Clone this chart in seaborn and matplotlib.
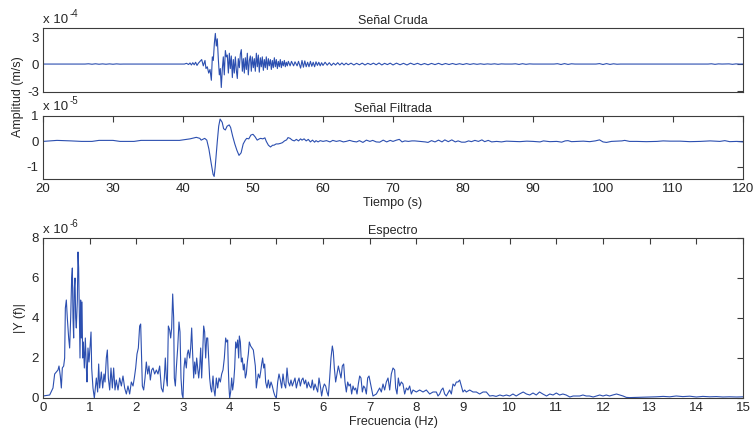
import matplotlib
matplotlib.use("Agg")
import matplotlib.pyplot as plt
import seaborn as sns
from matplotlib.ticker import FormatStrFormatter

# ---------------- data ----------------
# Raw velocity record, amplitude in units of 1e-4 m/s
raw_t = [20, 26, 26.5, 27, 27.5, 28, 28.5, 29, 29.5, 30, 30.5, 31, 31.5, 40.2,
         40.5, 40.8, 41.0, 41.2, 41.4, 41.6, 41.8, 42.0, 42.2,
         42.43, 42.67, 42.90, 43.14, 43.28, 43.47, 43.67, 43.86, 44.05, 44.19,
         44.33, 44.48, 44.62, 44.76, 44.90, 45.05, 45.19, 45.33, 45.47, 45.62,
         45.76, 45.90, 46.05, 46.19, 46.33, 46.48, 46.62, 46.76, 46.90, 47.05,
         47.19, 47.33, 47.48, 47.62, 47.76, 47.90, 48.05, 48.19, 48.33, 48.48,
         48.62, 48.76, 48.90, 49.05, 49.19, 49.33, 49.48, 49.62, 49.76, 49.90,
         50.05, 50.19, 50.33, 50.48, 50.62, 50.76, 50.90, 51.05, 51.19, 51.33,
         51.48, 51.62, 51.76, 51.90, 52.05, 52.19, 52.33, 52.48, 52.62, 52.76,
         52.90, 53.05, 53.19, 53.33, 53.48, 53.62, 53.76, 53.90, 54.05, 54.19,
         54.33, 54.48, 54.62, 54.76, 54.90, 55.05,
         55.3, 55.5, 55.8, 56.0, 56.3, 56.5, 56.8, 57.0, 57.2, 57.4, 57.6, 57.8, 58.0,
         58.2, 58.4, 58.6, 58.8, 59.0, 59.2, 59.4, 59.6, 59.8, 60.0, 60.3, 60.6,
         60.9, 61.2, 61.5, 61.8, 62.1, 62.4, 62.7, 63.0, 63.3, 63.6, 64.0, 64.4,
         64.8, 65.2, 65.6, 66.0, 66.4, 66.8, 67.2, 67.6, 68.0, 68.4, 68.8, 69.2,
         69.6, 70.0, 70.5, 71.0, 71.5, 72.0, 72.5, 73.0, 73.5, 74.0, 74.5, 75.0,
         75.5, 76.0, 76.5, 77.0, 77.5, 78.0, 78.5, 79.0, 79.5, 80.0, 80.5, 81.0,
         81.5, 82.0, 82.5, 83.0, 83.5, 84.0, 84.5, 85.0, 85.5, 86.0, 87.0, 87.5,
         88.0, 88.5, 89.0, 89.5, 90.0, 91.0, 92.0, 93.0, 93.5, 94.0, 94.5, 95.0,
         95.5, 96.0, 99.0, 99.5, 100.0, 100.5, 101.0, 101.5, 102.0, 102.5, 105.0,
         110.0, 115.0, 115.5, 116.0, 116.5, 117.0, 118.0, 118.5, 119.0, 119.5, 120.0]
raw_v = [0, 0, 0.03, -0.02, 0.03, -0.02, 0.02, -0.02, 0.02, -0.02, 0.02, -0.01, 0, 0,
         0.08, -0.05, 0.12, -0.1, 0.15, -0.08, 0.2, -0.15, 0.1,
         0.3, 0.5, -0.2, 0.4, -0.5, -0.3, -1.0, -0.6, -1.8, 0.8,
         0.4, 2.3, 3.4, 2.0, 2.8, 0.5, -1.2, -0.5, -2.6, -0.5,
         0.8, -1.2, 1.5, 0.8, 1.0, -1.0, 1.2, -0.5, 0.9, -1.5,
         0.5, -1.0, 0.8, -0.7, -1.6, 0.6, -0.4, 1.1, 1.6, -0.8,
         0.6, -1.0, 0.7, -0.6, 1.2, -1.2, 0.4, 0.9, -0.8, 0.8,
         -0.4, 0.6, -0.8, 1.2, -0.3, 1.0, -0.9, 0.7, -0.3, 0.8,
         -0.7, 0.5, -0.4, 0.8, -0.6, 0.6, -0.2, 0.5, -0.6, 0.4,
         -0.4, 0.7, -0.3, 0.5, -0.5, 0.3, -0.3, 0.5, -0.4, 0.3,
         -0.2, 0.4, -0.3, 0.2, -0.2, 0.3,
         -0.2, 0.3, -0.2, 0.25, -0.2, 0.3, -0.45, 0.4, -0.35, 0.35, -0.3, 0.2, -0.3,
         0.3, -0.25, 0.2, -0.3, 0.25, -0.15, 0.2, -0.2, 0.15, -0.15, 0.2, -0.12,
         0.15, -0.15, 0.1, -0.1, 0.15, -0.1, 0.12, -0.1, 0.1, -0.08, 0.1, -0.1,
         0.08, -0.08, 0.1, -0.1, 0.08, -0.06, 0.1, -0.08, 0.12, -0.1, 0.08, -0.06,
         0.1, -0.1, 0.1, -0.08, 0.08, -0.1, 0.1, -0.06, 0.08, -0.08, 0.06, -0.08,
         0.07, -0.06, 0.08, -0.07, 0.06, -0.05, 0.06, -0.05, 0.04, -0.05, 0.05, -0.04,
         0.04, -0.03, 0.03, -0.03, 0.02, -0.02, 0.03, -0.03, 0.02, 0, 0, 0.03,
         -0.04, 0.04, -0.03, 0.02, 0, 0, 0.01, 0, 0.04, -0.05, 0.05, -0.04,
         0.03, 0, 0, 0.05, -0.05, 0.05, -0.04, 0.03, -0.02, 0, 0,
         0.01, 0, 0.03, -0.03, 0.02, 0, 0.02, -0.03, 0.02, -0.01, 0]

# Band-pass filtered record, amplitude in units of 1e-5 m/s
filt_t = [20, 22, 24, 25.5, 27, 28, 30, 31, 33, 34, 36, 39.5, 40.2, 41.0, 41.9,
          42.4, 42.6, 43.1, 43.4, 43.7, 44.05, 44.3, 44.45, 44.6, 44.9, 45.1,
          45.3, 45.6, 45.8, 46.05, 46.3, 46.6, 46.8, 47.1, 47.4, 47.7, 48.0,
          48.3, 48.6, 48.9, 49.1, 49.4, 49.7, 50.0, 50.3, 50.6, 50.9, 51.1,
          51.4, 51.7, 51.9, 52.2, 52.5, 52.8, 53.0, 53.3, 53.6, 53.9, 54.2,
          54.5, 54.8, 55.0, 55.3, 55.6, 55.9, 56.2, 56.5, 56.8, 57.0, 57.3,
          57.6, 57.9, 58.2, 58.5, 58.8, 59.0, 59.3, 59.6, 60.0, 60.5, 61.0,
          61.4, 61.9, 62.4, 62.9, 63.3, 63.8, 64.3, 64.8, 65.2, 65.7, 66.2,
          66.7, 67.1, 67.6, 68.1, 68.6, 69.1, 69.6, 70.0, 70.5, 70.9, 71.3,
          71.7, 72.2, 72.7, 73.1, 73.9, 74.6, 75.0, 75.5, 76.0, 76.5, 77.0,
          77.4, 77.9, 78.4, 78.9, 79.3, 79.8, 80.3, 80.8, 81.2, 81.7, 82.2,
          82.7, 83.1, 83.6, 84.1, 84.8, 85.5, 86.2, 87.2, 88.1, 89.1, 90.0,
          91.0, 91.5, 92.4, 93.4, 94.1, 94.6, 95.0, 95.5, 96.2, 97.2, 98.1,
          98.9, 99.5, 100.0, 100.5, 101.2, 101.9, 102.7, 103.1, 103.8, 104.8,
          106.2, 107.7, 108.6, 109.6, 111.0, 112.4, 113.9, 115.3, 116.7, 117.4,
          118.1, 119.1, 120.0]
filt_v = [0, 0.04, 0.02, 0, 0.0, 0.04, 0.04, 0, 0, 0.04, 0.04, 0.04, 0.07, 0.1, 0.16,
          0.12, 0.05, 0.12, 0.05, -0.3, -0.9, -1.3, -1.38, -1.0, 0.0, 0.6,
          0.88, 0.75, 0.5, 0.45, 0.6, 0.65, 0.55, 0.2, -0.1, -0.35, -0.55,
          -0.45, -0.1, 0.05, 0.12, 0.1, 0.25, 0.28, 0.18, 0.05, 0.1, 0.12,
          0.1, 0.14, 0.0, -0.15, -0.22, -0.15, -0.15, -0.1, -0.1, -0.08, -0.05,
          0.02, 0.06, 0.15, 0.12, 0.05, 0.02, 0.08, 0.02, 0.1, 0.05, 0.1,
          0.02, 0.08, -0.02, 0.05, -0.03, 0.03, -0.02, 0.03, 0.0, 0.03, -0.02,
          0.04, 0.0, 0.03, -0.02, 0.0, 0.04, 0.0, -0.02, 0.03, -0.04, 0.05,
          0.0, 0.04, -0.02, -0.03, 0.05, -0.02, 0.04, 0.0, 0.05, 0.08, -0.02,
          0.02, 0.0, 0.02, 0.02, 0.0, -0.02, -0.04, 0.03, -0.02, 0.05, -0.02,
          0.06, -0.01, 0.06, -0.02, 0.02, -0.03, -0.03, 0.02, -0.01, 0.04, 0.0,
          0.06, -0.01, 0.04, -0.02, 0.0, -0.02, 0.01, 0.0, -0.01, 0.01, 0.0,
          -0.02, 0.02, -0.01, 0.0, -0.03, 0.02, 0.03, -0.01, 0.0, 0.01, -0.01,
          0.02, 0.06, -0.02, -0.04, 0.0, 0.01, 0.02, 0.04, 0.0, 0.0,
          -0.01, 0.0, 0.02, 0.01, 0.01, -0.01, 0.0, 0.02, 0.0, 0.03,
          -0.01, 0.0, -0.02]

# Amplitude spectrum |Y(f)|, in units of 1e-6
spec_f = [0.000, 0.143, 0.214, 0.250, 0.321, 0.343, 0.371, 0.393, 0.414, 0.443,
          0.464, 0.479, 0.500, 0.521, 0.550, 0.571, 0.593, 0.614, 0.629, 0.643,
          0.657, 0.671, 0.686, 0.700, 0.714, 0.736, 0.750, 0.764, 0.779, 0.793,
          0.807, 0.821, 0.836, 0.850, 0.864, 0.886, 0.907, 0.929, 0.943, 0.964,
          0.986, 1.007, 1.029, 1.043, 1.071, 1.100, 1.143, 1.171, 1.193, 1.214,
          1.250, 1.279, 1.307, 1.329, 1.357, 1.379, 1.400, 1.429, 1.457, 1.486,
          1.514, 1.543, 1.571, 1.607, 1.643, 1.679, 1.714, 1.750, 1.786, 1.821,
          1.857, 1.893, 1.929, 1.957, 1.986, 2.014, 2.043, 2.071, 2.093, 2.114,
          2.129, 2.157, 2.186, 2.214, 2.243, 2.271, 2.300, 2.329, 2.357, 2.393,
          2.429, 2.464, 2.500, 2.536, 2.571, 2.600, 2.621, 2.643, 2.664, 2.686,
          2.714, 2.736, 2.757, 2.779, 2.800, 2.814, 2.836, 2.857, 2.886, 2.914,
          2.936, 2.957, 2.979, 3.000, 3.021, 3.043, 3.071, 3.093, 3.114, 3.143,
          3.164, 3.186, 3.207, 3.229, 3.250, 3.271, 3.293, 3.314, 3.336, 3.357,
          3.379, 3.400, 3.421, 3.443, 3.464, 3.486, 3.507, 3.529, 3.550, 3.571,
          3.593, 3.614, 3.643, 3.664, 3.686, 3.714, 3.743, 3.771, 3.800, 3.829,
          3.857, 3.886, 3.914, 3.936, 3.957, 3.971, 3.986, 4.000, 4.021, 4.043,
          4.064, 4.086, 4.107, 4.129, 4.150, 4.171, 4.193, 4.207, 4.229, 4.250,
          4.271, 4.293, 4.314, 4.336, 4.357, 4.379, 4.400, 4.421, 4.450, 4.479,
          4.507, 4.529, 4.550, 4.571, 4.593, 4.614, 4.643, 4.664, 4.686, 4.707,
          4.729, 4.750, 4.771, 4.800, 4.829, 4.857, 4.886, 4.914, 4.943, 4.971,
          5.000, 5.029, 5.057, 5.086, 5.114, 5.143, 5.171, 5.200, 5.229, 5.257,
          5.286, 5.314, 5.343, 5.371, 5.400, 5.429, 5.457, 5.486, 5.514, 5.543,
          5.571, 5.600, 5.629, 5.657, 5.686, 5.714, 5.743, 5.771, 5.800, 5.829,
          5.857, 5.886, 5.914, 5.943, 5.971, 6.000, 6.029, 6.057, 6.086, 6.114,
          6.143, 6.171, 6.200, 6.221, 6.243, 6.271, 6.300, 6.329, 6.357, 6.386,
          6.414, 6.443, 6.471, 6.500, 6.529, 6.557, 6.586, 6.614, 6.643, 6.671,
          6.700, 6.729, 6.757, 6.786, 6.814, 6.843, 6.871, 6.900, 6.929, 6.957,
          6.986, 7.036, 7.071, 7.143, 7.214, 7.250, 7.286, 7.321, 7.357, 7.393,
          7.429, 7.464, 7.500, 7.536, 7.557, 7.586, 7.614, 7.643, 7.679, 7.714,
          7.750, 7.786, 7.821, 7.857, 7.893, 7.929, 8.000, 8.071, 8.143, 8.214,
          8.286, 8.357, 8.429, 8.464, 8.500, 8.536, 8.571, 8.607, 8.643, 8.714,
          8.750, 8.786, 8.821, 8.857, 8.893, 8.929, 8.964, 9.000, 9.036, 9.071,
          9.143, 9.214, 9.286, 9.357, 9.429, 9.500, 9.571, 9.64, 9.71, 9.79,
          9.86, 9.93, 10.0, 10.07, 10.14, 10.21, 10.29, 10.36, 10.43, 10.5,
          10.57, 10.64, 10.71, 10.79, 10.86, 10.93, 11.0, 11.07, 11.14, 11.21,
          11.29, 11.36, 11.43, 11.5, 11.57, 11.64, 11.71, 11.79, 11.86, 11.93,
          12.0, 12.07, 12.14, 12.21, 12.29, 12.36, 12.43, 12.5, 12.57, 12.71,
          12.86, 13.0, 13.14, 13.29, 13.43, 13.57, 13.71, 13.86, 14.0, 14.14,
          14.29, 14.43, 14.57, 14.71, 14.86, 15.0]
spec_a = [0.1, 0.15, 0.5, 1.2, 1.4, 1.6, 1.1, 0.5, 1.5, 1.6,
          2.0, 4.5, 4.9, 4.0, 3.0, 2.5, 4.0, 6.0, 6.5, 4.0,
          3.0, 5.5, 6.0, 4.0, 3.5, 4.9, 7.3, 6.5, 4.0, 2.0,
          4.9, 3.0, 4.8, 2.0, 2.8, 1.5, 3.0, 1.5, 0.8, 2.5,
          1.8, 2.5, 3.3, 1.5, 0.5, 0.0, 1.0, 0.3, 1.7, 0.5,
          1.3, 0.5, 1.2, 0.8, 2.0, 2.4, 1.0, 0.4, 1.5, 0.5,
          1.5, 0.4, 0.9, 0.4, 1.0, 0.6, 1.1, 0.5, 0.2, 0.6,
          0.2, 0.8, 0.6, 1.0, 1.5, 2.2, 2.5, 3.6, 3.7, 2.0,
          0.6, 0.4, 1.0, 1.8, 1.2, 1.6, 0.9, 1.4, 1.5, 1.2,
          1.4, 1.2, 1.6, 0.5, 0.3, 1.0, 2.0, 1.0, 0.6, 3.6,
          3.4, 3.0, 3.5, 5.2, 4.0, 1.0, 0.6, 1.5, 2.5, 3.8,
          3.3, 1.0, 0.2, 0.0, 1.5, 2.0, 1.5, 2.2, 2.4, 2.0,
          2.5, 3.5, 2.2, 1.0, 1.8, 1.2, 2.0, 1.5, 1.0, 1.5,
          2.5, 1.0, 2.2, 3.6, 3.3, 2.0, 3.0, 3.0, 2.0, 1.0,
          0.5, 0.3, 1.1, 0.4, 0.1, 1.0, 0.5, 1.0, 0.8, 1.2,
          1.4, 2.0, 3.0, 2.8, 2.9, 1.5, 0.5, 0.0, 0.3, 1.0,
          0.4, 0.8, 1.5, 2.8, 2.5, 2.9, 2.0, 3.1, 2.8, 1.8,
          2.0, 1.4, 1.7, 1.0, 1.2, 1.8, 2.2, 2.8, 2.6, 2.5,
          2.4, 2.0, 1.6, 0.5, 0.9, 1.2, 1.0, 1.3, 1.7, 2.0,
          1.5, 1.7, 0.8, 0.5, 0.9, 0.5, 0.8, 0.6, 0.3, 0.1,
          0.0, 0.8, 1.2, 0.9, 0.5, 1.2, 0.7, 0.5, 1.5, 0.8,
          0.6, 0.9, 0.6, 0.8, 1.0, 0.5, 0.8, 1.0, 0.6, 0.9,
          1.0, 0.7, 0.9, 0.5, 0.8, 0.6, 0.5, 0.9, 0.4, 0.7,
          0.5, 0.3, 1.0, 0.6, 0.1, 0.5, 0.7, 0.6, 0.3, 0.1,
          1.0, 2.0, 2.6, 2.3, 1.5, 0.8, 1.2, 1.6, 1.3, 1.0,
          1.6, 1.7, 0.8, 0.3, 0.8, 0.6, 0.7, 0.2, 0.6, 0.4,
          0.5, 0.2, 0.7, 1.1, 1.0, 0.3, 0.6, 0.5, 0.2, 1.0,
          1.1, 0.5, 0.1, 0.2, 0.5, 0.3, 0.7, 0.4, 0.8, 1.0,
          0.4, 1.2, 1.5, 1.4, 0.5, 0.2, 1.0, 0.6, 0.8, 0.7,
          0.2, 0.5, 0.4, 0.6, 0.2, 0.4, 0.3, 0.4, 0.3, 0.4,
          0.2, 0.3, 0.3, 0.1, 0.2, 0.4, 0.5, 0.2, 0.1, 0.4,
          0.2, 0.7, 0.6, 0.8, 0.8, 0.9, 0.6, 0.3, 0.4, 0.3,
          0.4, 0.3, 0.3, 0.2, 0.3, 0.3, 0.1, 0.12, 0.08, 0.15,
          0.1, 0.15, 0.1, 0.2, 0.1, 0.2, 0.3, 0.2, 0.15, 0.25,
          0.15, 0.3, 0.2, 0.1, 0.2, 0.15, 0.25, 0.15, 0.2, 0.15,
          0.05, 0.1, 0.1, 0.1, 0.15, 0.1, 0.1, 0.05, 0.1, 0.15,
          0.1, 0.15, 0.1, 0.15, 0.2, 0.15, 0.1, 0.03, 0.02, 0.03,
          0.04, 0.05, 0.06, 0.08, 0.06, 0.1, 0.07, 0.09, 0.05, 0.08,
          0.06, 0.07, 0.05, 0.06, 0.05, 0.06]

time_ticks = [20, 30, 40, 50, 60, 70, 80, 90, 100, 110, 120]
freq_ticks = list(range(0, 16))

# ---------------- style ----------------
sns.set_style("white")
plt.rcParams["font.family"] = ["Liberation Sans", "DejaVu Sans"]
plt.rcParams["axes.unicode_minus"] = False

LINE = "#2c4fb0"
INK = "#262626"
SPINE = "#3c3c3c"
TICK_FS = 9.5
TEXT_FS = 9

W, H = 753, 434
fig = plt.figure(figsize=(W / 100, H / 100), dpi=100)
renderer = fig.canvas.get_renderer()


def px_axes(left, top, right, bottom):
    return fig.add_axes([left / W, 1 - bottom / H, (right - left) / W, (bottom - top) / H])


def style(ax):
    for s in ax.spines.values():
        s.set_color(SPINE)
        s.set_linewidth(0.8)
    ax.tick_params(direction="in", length=4, width=0.8, color=SPINE,
                   top=True, right=True, labelsize=TICK_FS, labelcolor=INK, pad=3)
    ax.set_xlabel("")
    ax.set_ylabel("")


def exponent(left_px, base_px, power):
    """MATLAB-style 'x 10^n' multiplier written above an axes."""
    base = fig.text(left_px / W, 1 - base_px / H, "x 10", fontsize=TICK_FS,
                    color=INK, ha="left", va="baseline")
    width = base.get_window_extent(renderer).width
    fig.text((left_px + width + 1) / W, 1 - (base_px - 6) / H, power, fontsize=7,
             color=INK, ha="left", va="baseline")


# Raw signal
ax1 = px_axes(43, 28, 743, 92)
sns.lineplot(x=raw_t, y=raw_v, ax=ax1, color=LINE, linewidth=0.8,
             estimator=None, sort=False)
ax1.set_xlim(20, 120)
ax1.set_ylim(-3.1, 4.0)
ax1.set_xticks([])
ax1.set_yticks([-3, 0, 3])
ax1.yaxis.set_major_formatter(FormatStrFormatter("%g"))
style(ax1)
ax1.set_title("Señal Cruda", fontsize=TEXT_FS, color=INK, pad=3)
exponent(43, 23, "-4")

# Filtered signal
ax2 = px_axes(43, 116, 743, 179)
sns.lineplot(x=filt_t, y=filt_v, ax=ax2, color=LINE, linewidth=0.8,
             estimator=None, sort=False)
ax2.set_xlim(20, 120)
ax2.set_ylim(-1.48, 1.0)
ax2.set_xticks(time_ticks)
ax2.set_yticks([-1, 0, 1])
ax2.yaxis.set_major_formatter(FormatStrFormatter("%g"))
style(ax2)
ax2.set_title("Señal Filtrada", fontsize=TEXT_FS, color=INK, pad=3)
ax2.set_xlabel("Tiempo (s)", fontsize=TEXT_FS, color=INK, labelpad=1)
exponent(43, 110, "-5")

# Shared amplitude label for both time-domain panels
fig.text(18 / W, 1 - 97 / H, "Amplitud (m/s)", rotation=90, fontsize=TEXT_FS,
         color=INK, ha="center", va="center")

# Spectrum
ax3 = px_axes(43, 238, 743, 398)
sns.lineplot(x=spec_f, y=spec_a, ax=ax3, color=LINE, linewidth=0.8,
             estimator=None, sort=False)
ax3.set_xlim(0, 15)
ax3.set_ylim(0, 8)
ax3.set_xticks(freq_ticks)
ax3.set_yticks([0, 2, 4, 6, 8])
style(ax3)
ax3.set_title("Espectro", fontsize=TEXT_FS, color=INK, pad=3)
ax3.set_xlabel("Frecuencia (Hz)", fontsize=TEXT_FS, color=INK, labelpad=1)
ax3.set_ylabel("|Y (f)|", fontsize=TEXT_FS, color=INK, labelpad=4)
exponent(43, 233, "-6")

fig.savefig("out.png", dpi=100)
